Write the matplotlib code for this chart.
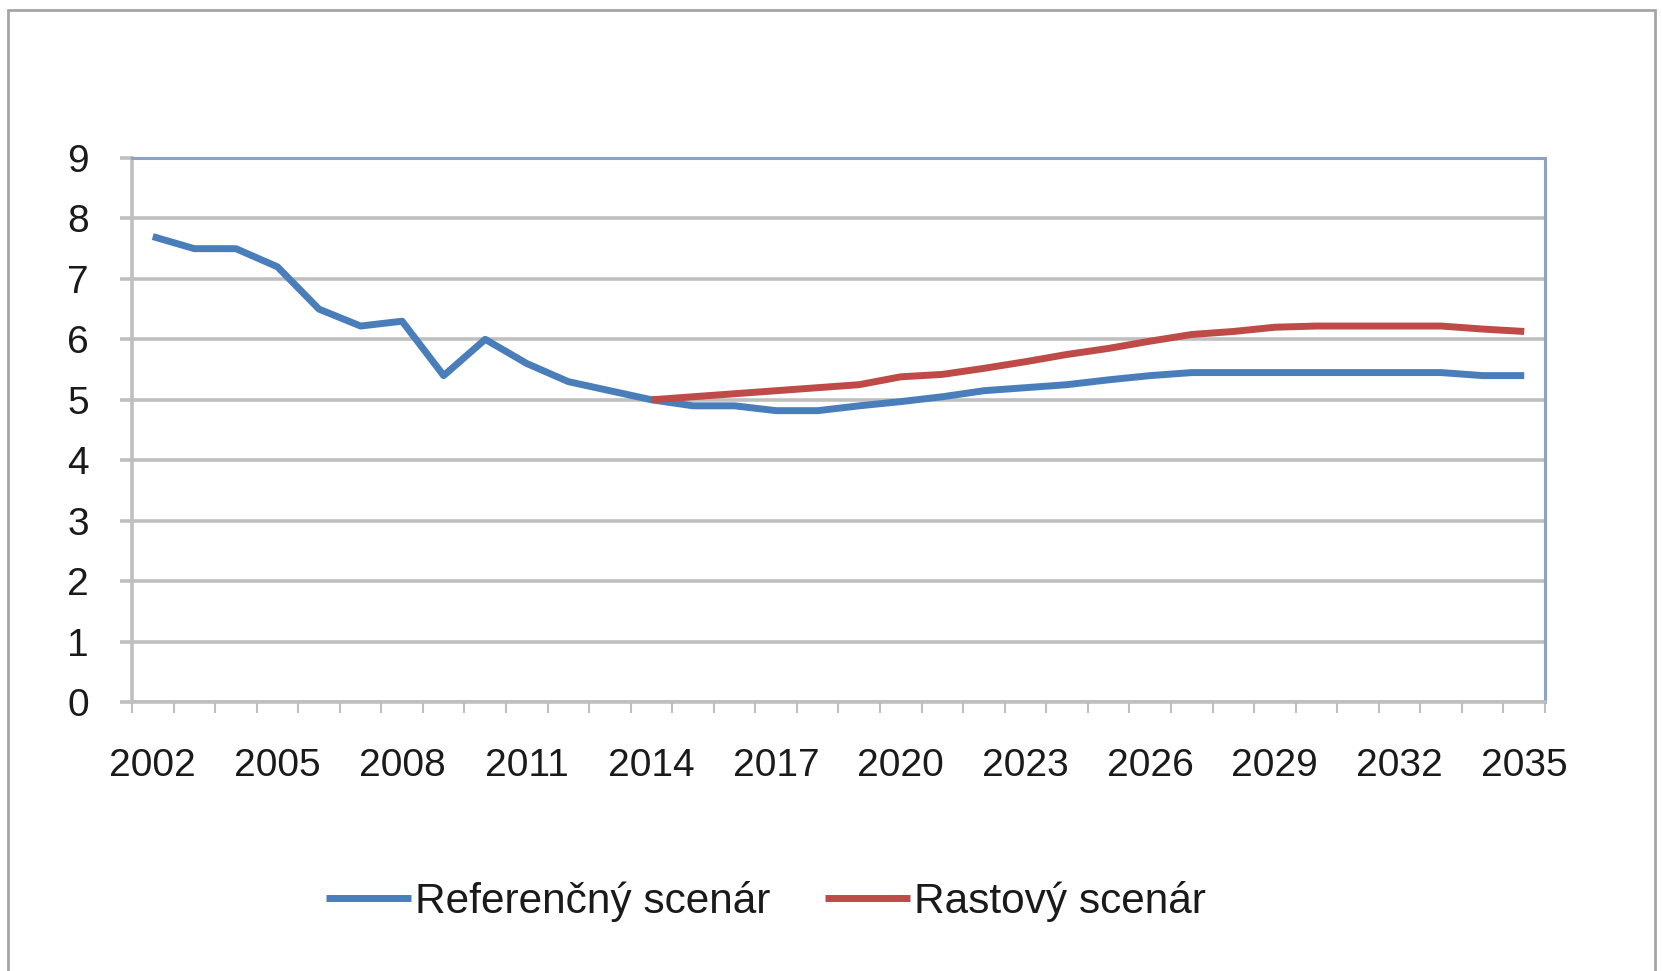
import matplotlib.pyplot as plt
from matplotlib.patches import Rectangle

years = list(range(2002, 2036))
referencny = [7.7, 7.5, 7.5, 7.2, 6.5, 6.22, 6.3, 5.4, 6.0, 5.6,
              5.3, 5.15, 5.0, 4.9, 4.9, 4.82, 4.82, 4.9, 4.97, 5.05,
              5.15, 5.2, 5.25, 5.33, 5.4, 5.45, 5.45, 5.45, 5.45, 5.45,
              5.45, 5.45, 5.4, 5.4]
rastovy_years = list(range(2014, 2036))
rastovy = [5.0, 5.05, 5.1, 5.15, 5.2, 5.25, 5.38, 5.42, 5.52, 5.63,
           5.75, 5.85, 5.97, 6.08, 6.13, 6.2, 6.22, 6.22, 6.22, 6.22,
           6.17, 6.13]
label_years = list(range(2002, 2036, 3))

plt.rcParams['font.family'] = ['Liberation Sans', 'DejaVu Sans']

fig = plt.figure(figsize=(16.62, 9.71), dpi=100)
ax = fig.add_axes([0.0794, 0.277, 0.8502, 0.5603])

x_ref = [y - years[0] for y in years]
x_ras = [y - years[0] for y in rastovy_years]
ax.plot(x_ref, referencny, color='#4A7EBB', lw=5, label='Referenčný scenár',
        solid_capstyle='butt', zorder=3)
ax.plot(x_ras, rastovy, color='#BE4B48', lw=5, label='Rastový scenár',
        solid_capstyle='butt', zorder=3)

ax.set_xlim(-0.5, len(years) - 0.5)
ax.set_ylim(0, 9)
ax.set_yticks(range(0, 10))
ax.grid(axis='y', color='#BFBFBF', lw=2.6, zorder=1)
ax.set_axisbelow(True)

ax.set_xticks([y - years[0] for y in label_years])
ax.set_xticklabels([str(y) for y in label_years])
ax.set_xticks([i - 0.5 for i in range(len(years) + 1)], minor=True)
ax.tick_params(axis='x', which='major', length=0, pad=33, labelsize=28, colors='#1a1a1a')
ax.tick_params(axis='x', which='minor', length=8, width=1.5, color='#BFBFBF')
ax.tick_params(axis='y', length=9, width=2.6, color='#BFBFBF', pad=22, labelsize=28,
               labelcolor='#1a1a1a')

for s in ['left', 'bottom']:
    ax.spines[s].set_color('#BFBFBF')
    ax.spines[s].set_linewidth(2.6)
for s in ['top', 'right']:
    ax.spines[s].set_color('#8DA3C4')
    ax.spines[s].set_linewidth(2.2)

fig.legend(loc='center', bbox_to_anchor=(0.461, 0.072), ncol=2, frameon=False,
           fontsize=30.5, handlelength=2.0, handletextpad=0.1, columnspacing=1.3,
           labelcolor='#1a1a1a')

fig.patches.append(Rectangle((0.005, -0.01), 0.991, 1.0, transform=fig.transFigure,
                             fill=False, edgecolor='#A6A6A6', lw=2))

fig.savefig('out.png', dpi=100)
